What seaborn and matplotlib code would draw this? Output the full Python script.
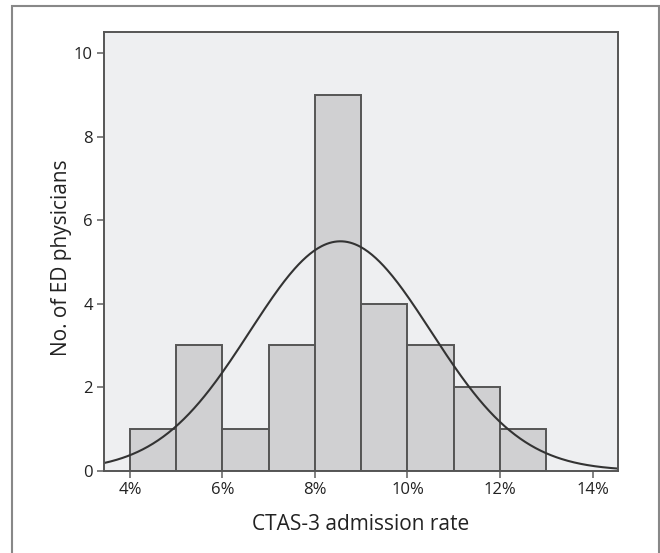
import numpy as np
import pandas as pd
import matplotlib
matplotlib.use("Agg")
import matplotlib.pyplot as plt
import seaborn as sns
from matplotlib.patches import Rectangle
from matplotlib.ticker import FuncFormatter

# Data (admission rate in %, bins of width 1%)
bin_edges = [4, 5, 6, 7, 8, 9, 10, 11, 12, 13]
bin_centers = [4.5, 5.5, 6.5, 7.5, 8.5, 9.5, 10.5, 11.5, 12.5]
counts = [1, 3, 1, 3, 9, 4, 3, 2, 1]
fit_mean = 8.55
fit_sd = 1.96
x_ticks = [4, 6, 8, 10, 12, 14]
y_ticks = [0, 2, 4, 6, 8, 10]

df = pd.DataFrame({"rate": bin_centers, "n": counts})

sns.set_theme(style="white")
plt.rcParams["font.family"] = ["Open Sans", "DejaVu Sans"]

fig = plt.figure(figsize=(6.6, 5.53), dpi=100)
ax = fig.add_axes([104/660, 1-470.7/553, (618-104)/660, (470.7-32)/553])
ax.set_facecolor("#eeeff1")

sns.histplot(data=df, x="rate", weights="n", bins=bin_edges, ax=ax,
             color="#d0d0d2", alpha=1, edgecolor="#555555", linewidth=1.4)

xs = np.linspace(3.44, 14.55, 400)
N = sum(counts)
binw = bin_edges[1] - bin_edges[0]
ys = N * binw / (fit_sd * np.sqrt(2*np.pi)) * np.exp(-0.5*((xs-fit_mean)/fit_sd)**2)
sns.lineplot(x=xs, y=ys, ax=ax, color="#333333", linewidth=1.5)

ax.set_xlim(3.44, 14.55)
ax.set_ylim(0, 10.51)
ax.set_xticks(x_ticks)
ax.set_yticks(y_ticks)
ax.xaxis.set_major_formatter(FuncFormatter(lambda v, p: f"{int(v)}%"))
ax.tick_params(axis="both", which="major", direction="out", length=5, width=1.3,
               color="#777777", labelsize=12, labelcolor="#222222", pad=3,
               bottom=True, left=True)
for s in ax.spines.values():
    s.set_color("#555555")
    s.set_linewidth(1.4)
ax.set_xlabel("CTAS-3 admission rate", fontsize=15, color="#222222", labelpad=12)
ax.set_ylabel("No. of ED physicians", fontsize=15, color="#222222",
              va="center")
ax.yaxis.set_label_coords((62-104)/514, 0.5 + (470.7-32)/2/438.7 - (258-32)/438.7)

fig.patches.append(Rectangle((12/660, -0.02), (659-12)/660, 1-6/553+0.02,
                             transform=fig.transFigure, fill=False,
                             edgecolor="#888888", linewidth=1.5))

fig.savefig("out.png", dpi=100)
